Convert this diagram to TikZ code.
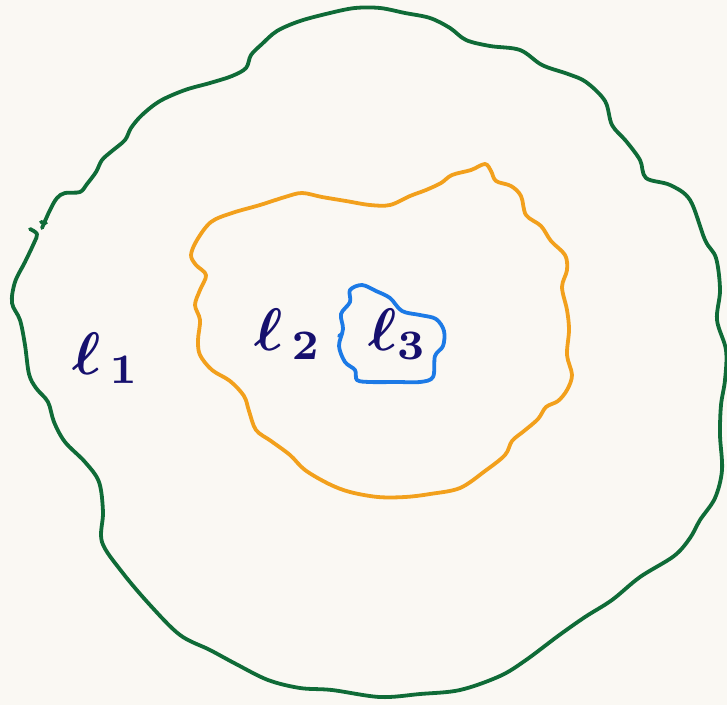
\documentclass[tikz,border=0pt]{standalone}
\usepackage{xcolor}
\definecolor{bgc}{HTML}{FAF8F3}
\definecolor{grn}{HTML}{0F6B37}
\definecolor{org}{HTML}{F2A01C}
\definecolor{blu}{HTML}{1C7AE6}
\definecolor{nav}{HTML}{16106E}
\tikzset{
  loopline/.style={line width=3.8pt, line cap=round, line join=round},
  lab/.style={text=nav, inner sep=0pt, font=\boldmath, scale=6}
}
\begin{document}
\begin{tikzpicture}[x=1pt,y=-1pt]
\fill[bgc] (0,0) rectangle (727,705);
\useasboundingbox (0,0) rectangle (727,705);
% outer green
\draw[loopline, grn] plot[smooth, tension=0.55] coordinates {
(42,228) (50,210) (57,198) (65,193) (80,192) (87,184) (96,172) (102,160) (112,151) (125,140) (131,128) (142,115) (160,101) (185,90) (210,83) (232,76) (246,68) (251,55) (262,44) (277,31) (300,21) (330,13) (355,8) (380,8) (405,13) (430,18) (450,28) (466,40) (490,46) (520,50) (542,65) (568,74) (586,82) (605,101) (612,125) (626,141) (640,160) (646,178) (670,185) (690,200) (705,240) (716,258) (720,290) (717,320) (726,350) (725,380) (721,405) (720,435) (722,470) (715,498) (700,520) (690,538) (674,556) (640,577) (612,600) (585,617) (558,636) (526,660) (500,676) (460,690) (420,694) (380,697) (332,690) (300,688) (268,680) (236,664) (210,650) (180,635) (150,605) (122,572) (102,542) (103,512) (99,482) (85,462) (65,442) (54,422) (48,402) (36,388) (29,374) (25,345) (20,320) (12,303) (15,282) (25,262) (34,243) (37,234) (30,229)};
\draw[loopline, grn] (41,222) -- (46,223);
% middle orange
\draw[loopline, org] plot[smooth cycle, tension=0.55] coordinates {
(191,255) (197,240) (211,222) (232,213) (260,205) (285,197) (302,193) (322,197) (346,201) (370,205) (390,205) (410,196) (426,190) (441,183) (452,175) (471,170) (485,164) (491,171) (496,181) (511,186) (521,196) (526,215) (541,226) (551,241) (565,255) (567,270) (562,287) (567,310) (569,330) (567,355) (572,375) (567,390) (558,401) (546,407) (538,419) (524,431) (512,441) (505,455) (485,471) (460,488) (430,494) (405,497) (378,497) (350,492) (329,484) (305,470) (290,455) (271,441) (256,430) (249,411) (244,396) (230,381) (212,370) (200,355) (198,340) (200,320) (195,305) (200,290) (206,275) (196,265)};
% inner blue
\draw[loopline, blu] plot[smooth cycle, tension=0.55] coordinates {
(350,290) (362,285) (376,291) (390,298) (402,311) (420,315) (436,319) (444,331) (443,346) (435,356) (433,377) (420,382) (398,382) (370,382) (357,380) (355,370) (345,362) (339,346) (343,329) (341,314) (350,302)};
\draw[loopline, blu] (339,336) -- (342,334);
% labels
\node[lab] (l1) at (106,358) {$\ell_{\,1}$};
\node[lab] (l2) at (288,334) {$\ell_{\,2}$};
\node[lab] (l3) at (398,334) {$\ell_3$};
\end{tikzpicture}
\end{document}
